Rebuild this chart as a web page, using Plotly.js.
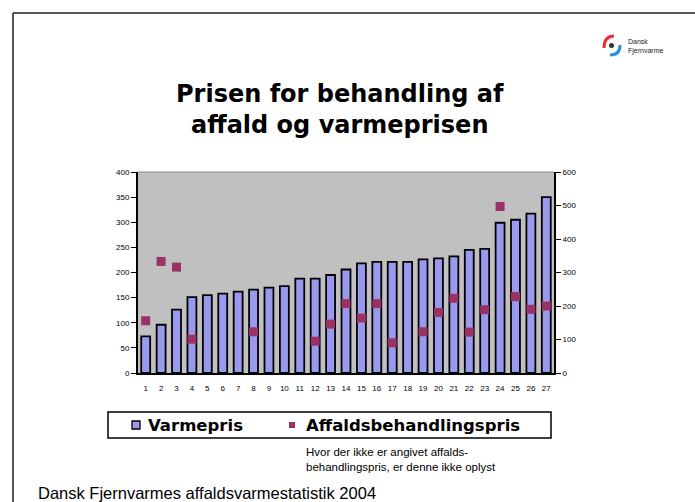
<!DOCTYPE html>
<html><head><meta charset="utf-8">
<script src="https://cdn.plot.ly/plotly-3.0.1.min.js"></script>
<style>html,body{margin:0;padding:0;background:#fff;}#chart{width:695px;height:502px;}</style>
</head><body><div id="chart"></div>
<script>
const categories = ['1','2','3','4','5','6','7','8','9','10','11','12','13','14','15','16','17','18','19','20','21','22','23','24','25','26','27'];
const varmepris = [73,96,126,151,155,158,162,166,170,173,188,188,195,206,218,221,221,221,226,228,232,245,247,299,305,317,350];
const affaldspris = [156,333,316,101,null,null,null,123,null,null,null,95,146,207,164,207,90,null,123,181,223,122,189,497,228,190,200];
const leftTicks = [0,50,100,150,200,250,300,350,400];
const rightTicks = [0,100,200,300,400,500,600];
const seriesNames = ['Varmepris','Affaldsbehandlingspris'];
const barColor = '#9999ee', markerColor = '#993366';

const L = 138, T = 172, W = 416, H = 201;
const px = x => (x - L) / W;
const py = y => (T + H - y) / H;

const traces = [
  {type:'bar', name:seriesNames[0], x:categories, y:varmepris, showlegend:false,
   marker:{color:barColor, line:{color:'#000', width:1.8}}},
  {type:'scatter', mode:'markers', name:seriesNames[1], x:categories, y:affaldspris, yaxis:'y2', showlegend:false,
   marker:{symbol:'square', color:markerColor, size:9}}
];

const layout = {
  width:695, height:502,
  margin:{l:138, r:141, t:172, b:129},
  paper_bgcolor:'#fff', plot_bgcolor:'#c0c0c0',
  bargap:0.42,
  showlegend:false,
  font:{family:'Liberation Sans, Arial', color:'#000'},
  xaxis:{type:'category', tickfont:{size:8}, showline:true, linecolor:'#000', linewidth:2,
    ticks:'outside', ticklen:6, tickcolor:'rgba(0,0,0,0)', showgrid:false, tickangle:0, range:[-0.5,26.5]},
  yaxis:{range:[0,400], tickvals:leftTicks, ticktext:leftTicks.map(String), tickfont:{size:8},
    showline:true, linecolor:'#000', linewidth:2, ticks:'outside', ticklen:5, tickcolor:'#000',
    showgrid:false, zeroline:false},
  yaxis2:{range:[0,600], tickvals:rightTicks, ticktext:rightTicks.map(v=>v.toFixed(0)), tickfont:{size:8},
    overlaying:'y', side:'right', showline:true, linecolor:'#000', linewidth:2, ticks:'outside', ticklen:5,
    tickcolor:'#000', showgrid:false, zeroline:false},
  shapes:[
    {type:'line', xref:'paper', yref:'paper', x0:0, x1:1, y0:1, y1:1, line:{color:'#888', width:1}},
    {type:'line', xref:'paper', yref:'paper', x0:px(13), x1:px(700), y0:py(13), y1:py(13), line:{color:'#555', width:2}},
    {type:'line', xref:'paper', yref:'paper', x0:px(13), x1:px(13), y0:py(13), y1:py(510), line:{color:'#555', width:2}},
    {type:'rect', xref:'paper', yref:'paper', x0:px(108), x1:px(551), y0:py(412), y1:py(438), fillcolor:'#fff', line:{color:'#000', width:1.5}},
    {type:'rect', xref:'paper', yref:'paper', x0:px(132), x1:px(140), y0:py(421), y1:py(429), fillcolor:barColor, line:{color:'#000', width:1.3}},
    {type:'rect', xref:'paper', yref:'paper', x0:px(289), x1:px(295), y0:py(422), y1:py(428), fillcolor:markerColor, line:{width:0}},
    {type:'path', xref:'paper', yref:'paper', line:{color:'#e8303a', width:3},
     path:'M '+px(604)+' '+py(48)+' Q '+px(604)+' '+py(36)+' '+px(614)+' '+py(36)},
    {type:'path', xref:'paper', yref:'paper', line:{color:'#2a8ee0', width:3},
     path:'M '+px(610)+' '+py(55)+' Q '+px(620)+' '+py(55)+' '+px(620)+' '+py(45)},
    {type:'circle', xref:'paper', yref:'paper', x0:px(609), x1:px(614), y0:py(48), y1:py(43), fillcolor:'#333', line:{width:0}}
  ],
  annotations:[
    {text:'<b>Prisen for behandling af<br>affald og varmeprisen</b>', xref:'paper', yref:'paper',
     x:px(340), y:py(109), xanchor:'center', yanchor:'middle', showarrow:false,
     font:{family:'DejaVu Sans', size:24, color:'#000'}, align:'center'},
    {text:'<b>'+seriesNames[0]+'</b>', xref:'paper', yref:'paper', x:px(146), y:py(425), xanchor:'left', yanchor:'middle',
     showarrow:false, font:{family:'DejaVu Sans', size:16.5, color:'#000'}},
    {text:'<b>'+seriesNames[1]+'</b>', xref:'paper', yref:'paper', x:px(304), y:py(425), xanchor:'left', yanchor:'middle',
     showarrow:false, font:{family:'DejaVu Sans', size:16.5, color:'#000'}},
    {text:'Hvor der ikke er angivet affalds-<br>behandlingspris, er denne ikke oplyst', xref:'paper', yref:'paper',
     x:px(304), y:py(459), xanchor:'left', yanchor:'middle', showarrow:false,
     font:{family:'Liberation Sans', size:11.5, color:'#000'}, align:'left'},
    {text:'Dansk Fjernvarmes affaldsvarmestatistik 2004', xref:'paper', yref:'paper',
     x:px(36), y:py(493), xanchor:'left', yanchor:'middle', showarrow:false,
     font:{family:'Liberation Sans', size:16.5, color:'#000'}},
    {text:'Dansk<br>Fjernvarme', xref:'paper', yref:'paper',
     x:px(626), y:py(46), xanchor:'left', yanchor:'middle', showarrow:false,
     font:{family:'Liberation Sans', size:7, color:'#222'}, align:'left'}
  ]
};
Plotly.newPlot('chart', traces, layout, {displayModeBar:false, staticPlot:true});
</script></body></html>
